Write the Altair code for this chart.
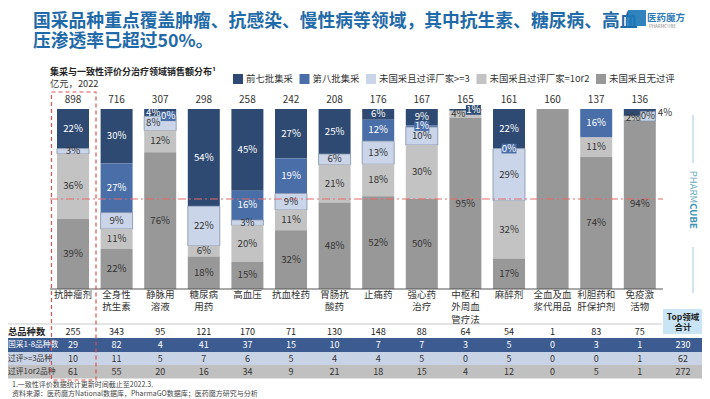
import json
import altair as alt
import pandas as pd

F = "Noto Sans CJK SC"

# ---------------- data ----------------
cats = ["抗肿瘤剂", "全身性抗生素", "静脉用溶液", "糖尿病用药", "高血压", "抗血栓药", "胃肠抗酸药",
        "止痛药", "强心药治疗", "中枢和外周血管疗法", "麻醉剂", "全血及血浆代用品", "利胆药和肝保护剂", "免疫激活物"]
cat_labels = ["抗肿瘤剂", "全身性\n抗生素", "静脉用\n溶液", "糖尿病\n用药", "高血压", "抗血栓药", "胃肠抗\n酸药",
              "止痛药", "强心药\n治疗", "中枢和\n外周血\n管疗法", "麻醉剂", "全血及血\n浆代用品", "利胆药和\n肝保护剂", "免疫激\n活物"]
totals = [898, 716, 307, 298, 258, 242, 208, 176, 167, 165, 161, 160, 137, 136]

series_names = ["前七批集采", "第八批集采", "未国采且过评厂家>=3", "未国采且过评厂家=1or2", "未国采且无过评"]
s_first7 = [22, 30, 4, 54, 45, 27, 25, 6, 9, 1, 22, None, None, 4]
s_eighth = [None, 27, 0, None, 16, 19, None, 12, 1, None, 0, None, 16, None]
s_ge3 = [3, 9, 8, 22, 3, 9, 6, 13, 10, None, 29, None, None, 0]
s_1or2 = [36, 11, 12, 6, 20, 11, 21, 18, 30, 4, 32, None, 11, 2]
s_none = [39, 22, 76, 18, 15, 32, 48, 52, 50, 95, 17, 100, 74, 94]
series_values = [s_first7, s_eighth, s_ge3, s_1or2, s_none]
stack_order = [5, 4, 3, 2, 1]
colors = ["#2e4a72", "#4a6fa8", "#cad5e9", "#c3c3c3", "#989898"]

table_labels = ["总品种数", "国采1-8品种数", "过评>=3品种", "过评1or2品种"]
t_total = [255, 343, 95, 121, 170, 71, 130, 148, 88, 64, 54, 1, 83, 75]
t_vbp = [29, 82, 4, 41, 37, 15, 10, 7, 7, 3, 5, 0, 3, 1]
t_ge3 = [10, 11, 5, 7, 6, 5, 4, 4, 5, 0, 5, 0, 0, 1]
t_1or2 = [61, 55, 20, 16, 34, 9, 21, 18, 15, 4, 12, 0, 5, 1]
table_values = [t_total, t_vbp, t_ge3, t_1or2]
table_sums = [None, 230, 62, 272]

title_lines = ["国采品种重点覆盖肿瘤、抗感染、慢性病等领域，其中抗生素、糖尿病、高血",
               "压渗透率已超过50%。"]
subtitle = "集采与一致性评价分治疗领域销售额分布¹"
unit = "亿元，2022"
foot1 = "1.一致性评价数据统计更新时间截止至2022.3."
foot2 = "资料来源：医药魔方National数据库，PharmaGO数据库；医药魔方研究与分析"

# ---------------- frames ----------------
seg_rows = []
for name, vals, o in zip(series_names, series_values, stack_order):
    for c, v in zip(cats, vals):
        if v is not None:
            seg_rows.append({"cat": c, "series": name, "value": v, "order": o})
df_seg = pd.DataFrame(seg_rows)
df_cat = pd.DataFrame({"cat": cats, "label": cat_labels, "total": totals})
one = pd.DataFrame({"a": [0]})

P = lambda v: v - 8  # page px -> view px

xenc = alt.X("cat:N", sort=cats, axis=None,
             scale=alt.Scale(domain=cats, range=[P(51.2), P(661.6)], paddingInner=0.266, paddingOuter=0.133))
yscale = alt.Scale(domain=[0, 1], range=[P(289), P(109)])
color_scale = alt.Scale(domain=series_names, range=colors)

navy, medium, pale = series_names[0], series_names[1], series_names[2]
base = (alt.Chart(df_seg)
        .transform_joinaggregate(tot="sum(value)", groupby=["cat"])
        .transform_calculate(pct="datum.value / datum.tot")
        .transform_stack(stack="pct", groupby=["cat"], as_=["y0", "y1"],
                         sort=[alt.SortField("order", order="ascending")])
        .transform_calculate(mid="(datum.y0 + datum.y1) / 2",
                             b0="(datum.y0 + datum.y1) / 2 - 0.027",
                             b1="(datum.y0 + datum.y1) / 2 + 0.027",
                             key="datum.cat + '|' + datum.series",
                             lab="datum.value + '%'",
                             tcol=f"(datum.series == '{navy}' || datum.series == '{medium}') ? 'white' : '#333333'",
                             bcol=f"datum.series == '{navy}' ? '{colors[0]}' : (datum.series == '{medium}' ? '{colors[1]}' : '{colors[2]}')",
                             scol=f"datum.series == '{pale}' ? '#8090a8' : 'transparent'"))

bars = base.mark_bar(strokeWidth=0.8).encode(
    x=xenc,
    y=alt.Y("y0:Q", scale=yscale, axis=None),
    y2="y1:Q",
    color=alt.Color("series:N", scale=color_scale,
                    legend=alt.Legend(title=None, orient="none", direction="horizontal",
                                      legendX=P(233), legendY=P(74), symbolType="square",
                                      symbolSize=100, symbolStrokeWidth=0, labelFont=F,
                                      labelFontSize=9.4, labelColor="#333", columnPadding=6.5,
                                      labelOffset=3)),
    stroke=alt.Stroke("scol:N", scale=None),
)

left_keys = ["静脉用溶液|前七批集采", "静脉用溶液|未国采且过评厂家>=3",
             "中枢和外周血管疗法|未国采且过评厂家=1or2", "免疫激活物|未国采且过评厂家=1or2"]
right_keys = ["静脉用溶液|第八批集采", "中枢和外周血管疗法|前七批集采", "免疫激活物|未国采且过评厂家>=3"]
out_keys = ["免疫激活物|前七批集采"]
center_box_keys = ["强心药治疗|第八批集采", "麻醉剂|第八批集采"]
special = left_keys + right_keys + out_keys
J = lambda l: json.dumps(l, ensure_ascii=False)


def boxes(keys, off):
    return base.transform_filter(f"indexof({J(keys)}, datum.key) >= 0").mark_bar(
        width=15, xOffset=off, strokeWidth=0.8).encode(
        x=xenc, y=alt.Y("b0:Q", scale=yscale, axis=None), y2="b1:Q",
        fill=alt.Fill("bcol:N", scale=None), stroke=alt.Stroke("scol:N", scale=None))


def labels(filt, **kw):
    return base.transform_filter(filt).mark_text(font=F, fontSize=9.7, baseline="middle", **kw).encode(
        x=xenc, y=alt.Y("mid:Q", scale=yscale, axis=None), text="lab:N",
        fill=alt.Fill("tcol:N", scale=None))


lab_main = labels(f"datum.value < 100 && indexof({J(special)}, datum.key) < 0")
lab_left = labels(f"indexof({J(left_keys)}, datum.key) >= 0", dx=-7)
lab_right = labels(f"indexof({J(right_keys)}, datum.key) >= 0", dx=8)
lab_out = base.transform_filter(f"indexof({J(out_keys)}, datum.key) >= 0").mark_text(
    font=F, fontSize=9.7, baseline="middle", align="left", dx=18, color="#333333").encode(
    x=xenc, y=alt.Y("mid:Q", scale=yscale, axis=None), text="lab:N")

# totals and category labels
tot_text = alt.Chart(df_cat).mark_text(font=F, fontSize=10, color="#333333", baseline="middle").encode(
    x=xenc, y=alt.value(P(100)), text="total:Q")
cat_text = alt.Chart(df_cat).mark_text(font=F, fontSize=9.5, color="#333333", baseline="top",
                                       lineBreak="\n", lineHeight=12.5).encode(
    x=xenc, y=alt.value(P(289.5)), text="label:N")

# reference lines (50% dash-dot and baseline)
ref_df = pd.DataFrame({"h": [0.5, 0.0], "kind": ["half", "base"]})
half_line = alt.Chart(ref_df).transform_filter("datum.kind == 'half'").mark_rule(
    color="#e06a6a", strokeDash=[8, 3, 2, 3], strokeWidth=1).encode(
    y=alt.Y("h:Q", scale=yscale, axis=None), x=alt.value(P(50)), x2=alt.value(P(663)))
base_line = alt.Chart(ref_df).transform_filter("datum.kind == 'base'").mark_rule(
    color="#555555", strokeWidth=1).encode(
    y=alt.Y("h:Q", scale=yscale, axis=None), x=alt.value(P(50)), x2=alt.value(P(663)))

# table
band_cols = ["#3c5c91", "#c9d3e6", "#c0c0c0"]
band_y = [(338, 352), (352, 365), (365, 378.5)]
layers_table = []
for (y0, y1), col in zip(band_y, band_cols):
    layers_table.append(alt.Chart(one).mark_rect(color=col).encode(
        x=alt.value(0), x2=alt.value(P(704)), y=alt.value(P(y0)), y2=alt.value(P(y1))))
layers_table.append(alt.Chart(one).mark_rule(color="#bbbbbb", strokeWidth=0.8).encode(
    x=alt.value(0), x2=alt.value(P(662)), y=alt.value(P(324))))

row_y = [332, 345, 358.5, 371.7]
row_col = ["#222222", "white", "#333333", "#333333"]
for i, (lbl, vals, s, yy, col) in enumerate(zip(table_labels, table_values, table_sums, row_y, row_col)):
    dft = pd.DataFrame({"cat": cats, "v": vals})
    layers_table.append(alt.Chart(dft).mark_text(font=F, fontSize=9, color=col, baseline="middle").encode(
        x=xenc, y=alt.value(P(yy)), text="v:Q"))
    layers_table.append(alt.Chart(pd.DataFrame({"t": [lbl]})).mark_text(
        font=F, fontSize=9.3 if i == 0 else 7.8, color=col, baseline="middle", align="left",
        fontWeight="bold" if i == 0 else "normal").encode(
        x=alt.value(0), y=alt.value(P(yy)), text="t:N"))
    if s is not None:
        layers_table.append(alt.Chart(pd.DataFrame({"t": [str(s)]})).mark_text(
            font=F, fontSize=9, color=col, baseline="middle").encode(
            x=alt.value(P(683)), y=alt.value(P(yy)), text="t:N"))

top_box = alt.Chart(one).mark_rect(color="#c8e4f5").encode(
    x=alt.value(P(663)), x2=alt.value(P(703)), y=alt.value(P(309)), y2=alt.value(P(334)))
top_txt = alt.Chart(pd.DataFrame({"t": ["Top领域\n合计"]})).mark_text(
    font=F, fontSize=8.5, fontWeight="bold", color="#222222", baseline="middle", lineBreak="\n", lineHeight=10.5
).encode(x=alt.value(P(683)), y=alt.value(P(316.5)), text="t:N")

red_box = alt.Chart(one).mark_rect(fillOpacity=0, stroke="#d9534f", strokeDash=[4, 3], strokeWidth=1.2).encode(
    x=alt.value(P(51.5)), x2=alt.value(P(96)), y=alt.value(P(92)), y2=alt.value(P(380)))


def txt(s, x, y, size, color="#333333", weight="normal", align="left", **kw):
    return alt.Chart(pd.DataFrame({"t": [s]})).mark_text(
        font=F, fontSize=size, color=color, fontWeight=weight, align=align, baseline="middle", **kw
    ).encode(x=alt.value(P(x)), y=alt.value(P(y)), text="t:N")


t1 = txt(title_lines[0], 33, 22, 17.8, "#1f6aa8", "bold")
t2 = txt(title_lines[1], 33, 42, 17.8, "#1f6aa8", "bold")
logo_box = alt.Chart(one).mark_rect(color="#1f78b8", opacity=0.92).encode(
    x=alt.value(P(628)), x2=alt.value(P(646)), y=alt.value(P(10)), y2=alt.value(P(26)))
logo_t = txt("医药魔方", 647, 18, 9.5, "#2a7ab8", "bold")
logo_s = txt("PHARMCUBE", 649, 27, 4.5, "#888888")
st = txt(subtitle, 50, 72, 9.0, "#222222", "bold")
un = txt(unit, 50, 83.5, 9.3, "#333333")
f1 = txt(foot1, 12, 385, 7, "#444444")
f2 = txt(foot2, 12, 394, 7, "#444444")

wm1 = txt("PHARM", 693, 187, 9.5, "#6aaabf", align="center", angle=90)
wm2 = txt("CUBE", 693, 216, 9.5, "#3d95b3", "bold", align="center", angle=90)
wl1 = alt.Chart(one).mark_rule(color="#a8cad6", strokeWidth=1).encode(
    x=alt.value(P(693)), y=alt.value(P(115)), y2=alt.value(P(163)))
wl2 = alt.Chart(one).mark_rule(color="#a8cad6", strokeWidth=1).encode(
    x=alt.value(P(693)), y=alt.value(P(247)), y2=alt.value(P(293)))

chart = alt.layer(
    *layers_table, top_box, top_txt,
    bars, half_line, base_line,
    boxes(center_box_keys, 0), boxes(right_keys, 8),
    lab_main, lab_left, lab_right, lab_out,
    tot_text, cat_text, red_box,
    t1, t2, logo_box, logo_t, logo_s, st, un, f1, f2,
    wm1, wm2, wl1, wl2,
).properties(width=694, height=391, padding=0, autosize=alt.AutoSizeParams(type="none")).configure_view(stroke=None)

chart.save("out.html", embed_options={"renderer": "svg", "actions": False})
